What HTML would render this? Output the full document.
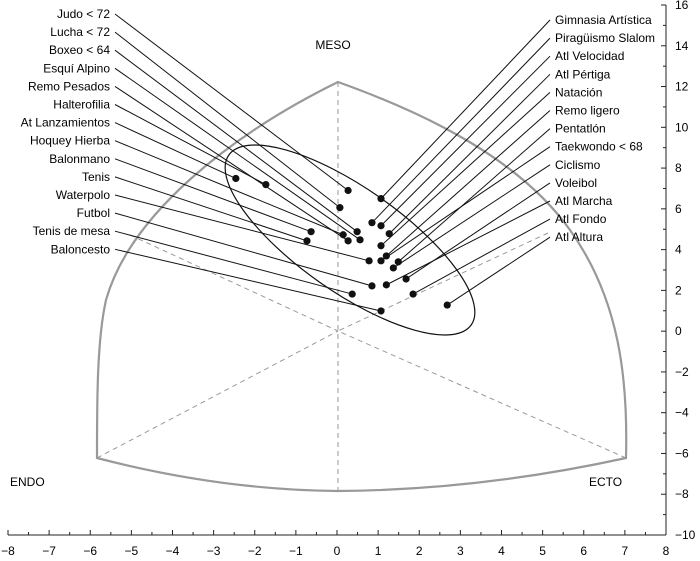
<!DOCTYPE html>
<html><head><meta charset="utf-8"><style>
html,body{margin:0;padding:0;background:#fff}
svg{display:block;font-family:"Liberation Sans",sans-serif}
</style></head><body>
<svg id="chart" width="700" height="561" viewBox="0 0 700 561" xmlns="http://www.w3.org/2000/svg">
<g id="frame">
<path d="M338,82 C230,135 130,215 106,300 C97,340 97,400 97,458 Q220,490 338,491 Q480,490 626,458 C628,380 620,300 570,230 C520,160 430,115 338,82 Z" fill="none" stroke="#999" stroke-width="2.2"/>
<g stroke="#999" stroke-dasharray="5,4" fill="none" stroke-width="1">
<line x1="338" y1="82" x2="338" y2="491"/>
<line x1="97" y1="458" x2="338" y2="331"/>
<line x1="626" y1="458" x2="338" y2="331"/>
<line x1="130" y1="235" x2="338" y2="331"/>
<line x1="548" y1="233" x2="338" y2="331"/>
</g>
<ellipse cx="350" cy="240" rx="148" ry="52" transform="rotate(35 350 240)" fill="none" stroke="#111" stroke-width="1.2"/>
<text x="333" y="49" font-size="12" text-anchor="middle">MESO</text>
<text x="10" y="486" font-size="12">ENDO</text>
<text x="589" y="486" font-size="12">ECTO</text>
</g>
<g id="axes"></g>
<g id="leaders"></g>
<g id="points"></g>
<g id="labels"></g>
</svg>
<script>
const xTicks = [-8,-7,-6,-5,-4,-3,-2,-1,0,1,2,3,4,5,6,7,8];
const yTicks = [-10,-8,-6,-4,-2,0,2,4,6,8,10,12,14,16];
const leftNames = ["Judo < 72","Lucha < 72","Boxeo < 64","Esquí Alpino","Remo Pesados","Halterofilia","At Lanzamientos","Hoquey Hierba","Balonmano","Tenis","Waterpolo","Futbol","Tenis de mesa","Baloncesto"];
const leftX = [0.27,0.07,0.49,0.56,0.27,-1.73,-2.46,0.15,-0.63,-0.73,0.78,0.85,0.37,1.07];
const leftY = [6.90,6.06,4.88,4.48,4.43,7.19,7.49,4.73,4.88,4.43,3.45,2.22,1.82,0.99];
const rightNames = ["Gimnasia Artística","Piragüismo Slalom","Atl Velocidad","Atl Pértiga","Natación","Remo ligero","Pentatlón","Taekwondo < 68","Ciclismo","Voleibol","Atl Marcha","Atl Fondo","Atl Altura"];
const rightX = [1.07,0.85,1.07,1.27,1.07,1.20,1.49,1.07,1.37,1.68,1.20,1.85,2.68];
const rightY = [6.50,5.32,5.17,4.78,4.19,3.69,3.40,3.45,3.10,2.56,2.27,1.82,1.28];

const NS="http://www.w3.org/2000/svg";
const X0=8, X1=666, Y0=535, Y1=5;
function sx(v){return X0+(v+8)*(X1-X0)/16;}
function sy(v){return Y0-(v+10)*(Y0-Y1)/26;}
function mk(tag,attrs,parent){const e=document.createElementNS(NS,tag);for(const k in attrs)e.setAttribute(k,attrs[k]);parent.appendChild(e);return e;}

const axes=document.getElementById('axes');
const xa=mk('line',{x1:X0,y1:Y0,x2:X1,y2:Y0,stroke:'#222','stroke-width':1},axes);


const ya=mk('line',{x1:X1,y1:Y1,x2:X1,y2:Y0,stroke:'#222','stroke-width':1},axes);


for(let i=0;i<xTicks.length;i++){
  const v=xTicks[i];
  mk('line',{x1:sx(v),y1:Y0,x2:sx(v),y2:Y0-5,stroke:'#222'},axes);
  if(i<xTicks.length-1) mk('line',{x1:sx(v+0.5),y1:Y0,x2:sx(v+0.5),y2:Y0-3,stroke:'#222'},axes);
  const t=mk('text',{x:sx(v),y:555,'font-size':12,'text-anchor':'middle'},axes);
  t.textContent=v<0?'\u2212'+(-v):String(v);
  
  
}
for(let i=0;i<yTicks.length;i++){
  const v=yTicks[i];
  mk('line',{x1:X1,y1:sy(v),x2:X1-5,y2:sy(v),stroke:'#222'},axes);
  if(i<yTicks.length-1) mk('line',{x1:X1,y1:sy(v+1),x2:X1-3,y2:sy(v+1),stroke:'#222'},axes);
  const t=mk('text',{x:675,y:sy(v)+4,'font-size':12},axes);
  t.textContent=v<0?'\u2212'+(-v):String(v);
  
  
}

const leaders=document.getElementById('leaders'),pts=document.getElementById('points'),labs=document.getElementById('labels');
function addSeries(names,xs,ys,side){
  for(let i=0;i<names.length;i++){
    const ly=side==='left'?18+i*18.1:24+i*18.1;
    const px=sx(xs[i]),py=sy(ys[i]);
    const lx=side==='left'?115:550;
    const ln=mk('line',{x1:lx,y1:ly-4,x2:px,y2:py,stroke:'#111','stroke-width':1},leaders);
    
    
    const c=mk('circle',{cx:px,cy:py,r:3.6,fill:'#111'},pts);
    
    
    const t=mk('text',{x:side==='left'?110:555,y:ly,'font-size':12,'text-anchor':side==='left'?'end':'start'},labs);
    t.textContent=names[i];
    
    
  }
}
addSeries(leftNames,leftX,leftY,'left');
addSeries(rightNames,rightX,rightY,'right');
</script>
</body></html>
